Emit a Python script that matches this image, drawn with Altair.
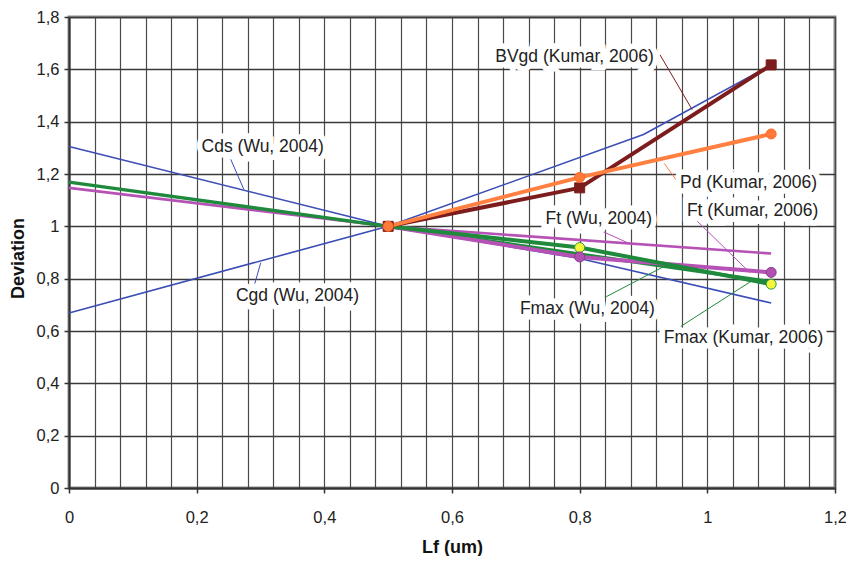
import altair as alt
import pandas as pd

# ---- data ----
series_names = ["Cds (Wu, 2004)", "Cgd (Wu, 2004)", "Ft (Wu, 2004)", "Fmax (Wu, 2004)",
                "Ft (Kumar, 2006)", "Fmax (Kumar, 2006)", "BVgd (Kumar, 2006)", "Pd (Kumar, 2006)"]
cds_x = [0, 0.5, 0.8, 1.1]
cds_y = [1.305, 1.0, 0.877, 0.707]
cgd_x = [0, 0.5, 0.9, 1.1]
cgd_y = [0.669, 1.0, 1.351, 1.617]
ftwu_x = [0, 0.5, 1.1]
ftwu_y = [1.147, 1.0, 0.896]
fmaxwu_x = [0, 0.5, 1.1]
fmaxwu_y = [1.169, 1.0, 0.788]
ftk_x = [0.5, 0.8, 1.1]
ftk_y = [1.0, 0.883, 0.824]
fmaxk_x = [0.5, 0.8, 1.1]
fmaxk_y = [1.0, 0.919, 0.779]
bvgd_x = [0.5, 0.8, 1.1]
bvgd_y = [1.0, 1.147, 1.617]
pd_x = [0.5, 0.8, 1.1]
pd_y = [1.0, 1.187, 1.353]

series_x = [cds_x, cgd_x, ftwu_x, fmaxwu_x, ftk_x, fmaxk_x, bvgd_x, pd_x]
series_y = [cds_y, cgd_y, ftwu_y, fmaxwu_y, ftk_y, fmaxk_y, bvgd_y, pd_y]
series_colors = ["#3a4db5", "#3a4db5", "#b652b6", "#1f8a3c",
                 "#b652b6", "#1f8a3c", "#7d1c1c", "#ff8040"]
series_widths = [1.6, 1.6, 2.6, 3.4, 4, 4, 4, 4]
marker_series = ["Fmax (Kumar, 2006)", "Ft (Kumar, 2006)", "BVgd (Kumar, 2006)", "Pd (Kumar, 2006)"]
marker_shapes = ["circle", "circle", "square", "circle"]
marker_fill = ["#f5f53c", "#b050b0", "#7d1c1c", "#ff7a38"]
marker_stroke = ["#2a9a40", "#8a3a8a", "#7d1c1c", "#ff6a28"]

# annotation labels (data coordinates)
label_x = [0.3035, 0.358, 0.792, 1.0646, 1.0709, 0.830, 0.812, 1.0568]
label_y = [1.3015, 0.735, 1.6475, 1.1646, 1.0582, 1.0277, 0.6833, 0.5715]
label_text = ["Cds (Wu, 2004)", "Cgd (Wu, 2004)", "BVgd (Kumar, 2006)", "Pd (Kumar, 2006)",
              "Ft (Kumar, 2006)", "Ft (Wu, 2004)", "Fmax (Wu, 2004)", "Fmax (Kumar, 2006)"]
leader_x1 = [0.2534, 0.291, 0.926, 0.9324, 0.9841, 0.8276, 0.8417, 0.9584]
leader_y1 = [1.2559, 0.781, 1.655, 1.2407, 1.0201, 0.9897, 0.7312, 0.6175]
leader_x2 = [0.2738, 0.3004, 0.9762, 0.9528, 1.067, 0.8792, 0.934, 1.0701]
leader_y2 = [1.1418, 0.8608, 1.446, 1.1722, 0.8224, 0.9327, 0.8491, 0.7924]

x_ticks = [round(i * 0.04, 2) for i in range(31)]
y_ticks = [round(i * 0.2, 1) for i in range(10)]

FONT = "Liberation Sans"
PLOT_W, PLOT_H = 766, 471

rows = []
for name, xs, ys in zip(series_names, series_x, series_y):
    for xv, yv in zip(xs, ys):
        rows.append({"series": name, "x": xv, "y": yv})
df = pd.DataFrame(rows)

labels_df = pd.DataFrame({"text": label_text, "x": label_x, "y": label_y})
leaders_df = pd.DataFrame({"series": label_text, "x": leader_x1, "y": leader_y1,
                           "x2": leader_x2, "y2": leader_y2})

color_scale = alt.Scale(domain=series_names, range=series_colors)

xscale = alt.Scale(domain=[0, 1.2], nice=False, zero=False)
yscale = alt.Scale(domain=[0, 1.8], nice=False, zero=False)

major_test = "abs(datum.value*5 - round(datum.value*5)) < 0.001"
x_axis = alt.Axis(
    values=x_ticks, grid=True, gridColor="#4a4a4a", gridWidth=1.2,
    labelExpr=major_test + " ? replace(format(datum.value, '~g'), '.', ',') : ''",
    tickOpacity={"condition": {"test": major_test, "value": 1}, "value": 0},
    labelOverlap=False, labelFlush=False, tickSize=5, tickColor="#333", tickWidth=1.5,
    domainColor="#333", domainWidth=2, labelFont=FONT, labelFontSize=16.5, labelColor="#222",
    labelPadding=16, title="Lf (um)", titleFont=FONT, titleFontSize=18, titleFontWeight="bold",
    titleColor="#111", titleBaseline="alphabetic", titleY=64, titleX=PLOT_W / 2)
y_axis = alt.Axis(
    values=y_ticks, grid=True, gridColor="#3a3a3a", gridWidth=1.3,
    labelExpr="replace(format(datum.value, '~g'), '.', ',')",
    labelOverlap=False, labelFlush=False, tickSize=5, tickColor="#333", tickWidth=1.5,
    domainColor="#333", domainWidth=2, labelFont=FONT, labelFontSize=16.5, labelColor="#222",
    labelPadding=5, title="Deviation", titleFont=FONT, titleFontSize=18, titleFontWeight="bold",
    titleColor="#111", titleBaseline="middle", titleX=-51, titleY=241, titleAngle=270)


def X(field="x"):
    return alt.X(f"{field}:Q", scale=xscale, axis=x_axis)


def Y(field="y"):
    return alt.Y(f"{field}:Q", scale=yscale, axis=y_axis)


base = alt.Chart(df)

layers = []
for name, w in zip(series_names, series_widths):
    layers.append(base.transform_filter(alt.datum.series == name).mark_line(
        strokeWidth=w, strokeJoin="round").encode(
        x=X(), y=Y(),
        color=alt.Color("series:N", scale=color_scale, legend=None)))

for name, shp, fc, sc in zip(marker_series, marker_shapes, marker_fill, marker_stroke):
    layers.append(base.transform_filter(alt.datum.series == name).mark_point(
        shape=shp, filled=True, fill=fc, stroke=sc, strokeWidth=1, size=100, opacity=1).encode(
        x=X(), y=Y()))

# leader lines
layers.append(alt.Chart(leaders_df).mark_rule(strokeWidth=1).encode(
    x=X(), y=Y(), x2="x2:Q", y2="y2:Q",
    color=alt.Color("series:N", scale=color_scale, legend=None)))

# label halos (white background) and labels
layers.append(alt.Chart(labels_df).mark_text(
    font=FONT, fontSize=17.5, stroke="white", strokeWidth=11, fill="white",
    strokeJoin="miter", align="center", baseline="middle").encode(
    x=X(), y=Y(), text="text:N"))
layers.append(alt.Chart(labels_df).mark_text(
    font=FONT, fontSize=17.5, color="#222", align="center", baseline="middle").encode(
    x=X(), y=Y(), text="text:N"))

chart = alt.layer(*layers).properties(
    width=PLOT_W, height=PLOT_H,
    autosize=alt.AutoSizeParams(type="none"),
    padding={"left": 61, "top": 9, "right": 11, "bottom": 68},
    background="white",
).configure_view(stroke="#8c8c8c", strokeWidth=3)

chart.save("out.html", embed_options={"renderer": "svg", "actions": False})
